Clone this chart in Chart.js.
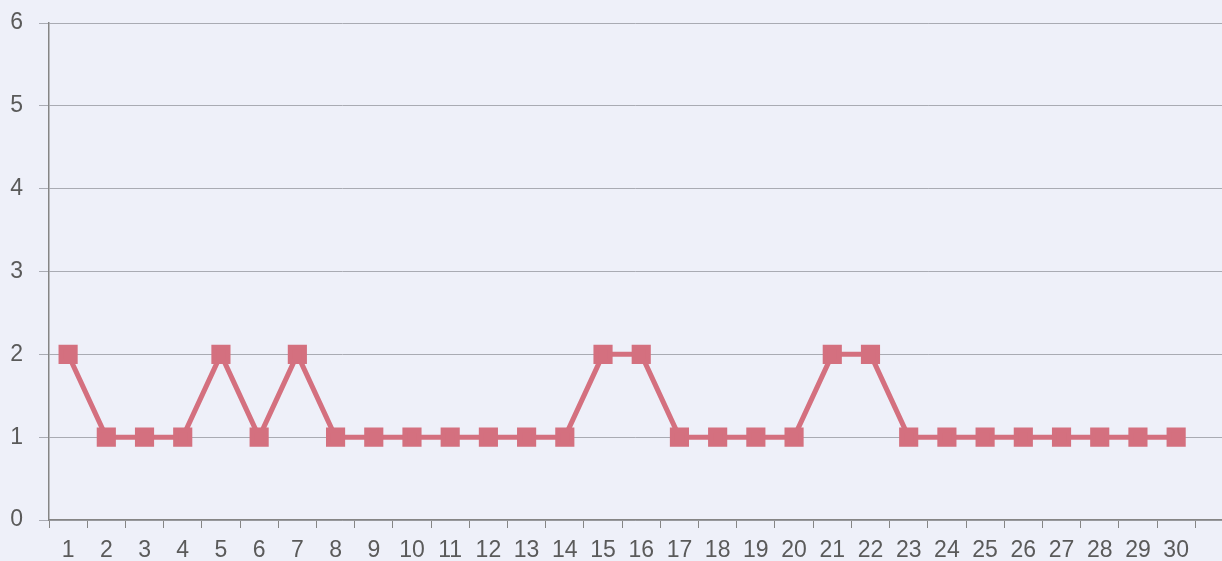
<!DOCTYPE html>
<html>
<head>
<meta charset="utf-8">
<script src="https://cdn.jsdelivr.net/npm/chart.js@4"></script>
<style>
  html, body { margin: 0; padding: 0; background: #eef0f9; overflow: hidden; }
  canvas { display: block; }
</style>
</head>
<body>
<canvas id="chart" width="1222" height="561"></canvas>
<script>
// chart data
const categories = [1,2,3,4,5,6,7,8,9,10,11,12,13,14,15,16,17,18,19,20,21,22,23,24,25,26,27,28,29,30];
const values = [2,1,1,1,2,1,2,1,1,1,1,1,1,1,2,2,1,1,1,1,2,2,1,1,1,1,1,1,1,1];
const yTicks = [0,1,2,3,4,5,6];

const points = categories.map((c, i) => ({ x: c, y: values[i] }));

const axisGrey = '#858585';
const textGrey = '#5a5a5a';

new Chart(document.getElementById('chart'), {
    type: 'line',
    data: {
        datasets: [{
            data: points,
            borderColor: '#d4707f',
            backgroundColor: '#d4707f',
            borderWidth: 5,
            pointStyle: 'rect',
            pointRadius: 10,
            pointHoverRadius: 10,
            tension: 0,
            clip: false
        }]
    },
    options: {
        responsive: false,
        animation: false,
        plugins: {
            legend: { display: false },
            tooltip: { enabled: false }
        },
        layout: { autoPadding: false, padding: { top: 23, right: 0, bottom: 0, left: 0 } },
        scales: {
            x: {
                type: 'linear',
                min: 0.5,
                max: 31.2,
                afterBuildTicks: (axis) => {
                    // labels on categories, tick marks between them
                    const t = [];
                    for (let i = 0; i <= categories.length; i++) {
                        t.push({ value: i + 0.5 });
                        if (i < categories.length) t.push({ value: categories[i] });
                    }
                    axis.ticks = t;
                },
                afterFit: (axis) => { axis.height = 41; axis.paddingRight = 0; },
                ticks: {
                    autoSkip: false,
                    maxRotation: 0,
                    color: textGrey,
                    font: { family: 'Liberation Sans', size: 23 },
                    padding: 9,
                    callback: (v) => Number.isInteger(v) ? String(v) : ''
                },
                grid: {
                    drawOnChartArea: false,
                    tickLength: 8,
                    color: (ctx) => (ctx.tick && Number.isInteger(ctx.tick.value)) ? 'rgba(0,0,0,0)' : axisGrey
                },
                border: { color: axisGrey, width: 1.5 }
            },
            y: {
                min: 0,
                max: 6,
                afterBuildTicks: (axis) => { axis.ticks = yTicks.map(v => ({ value: v })); },
                afterFit: (axis) => { axis.width = 49; axis.paddingTop = 0; axis.paddingBottom = 0; },
                ticks: {
                    color: textGrey,
                    font: { family: 'Liberation Sans', size: 23 },
                    padding: 16
                },
                grid: {
                    color: '#a9abb3',
                    lineWidth: 1,
                    tickLength: 10
                },
                border: { color: axisGrey, width: 1.5 }
            }
        }
    }
});
</script>
</body>
</html>
